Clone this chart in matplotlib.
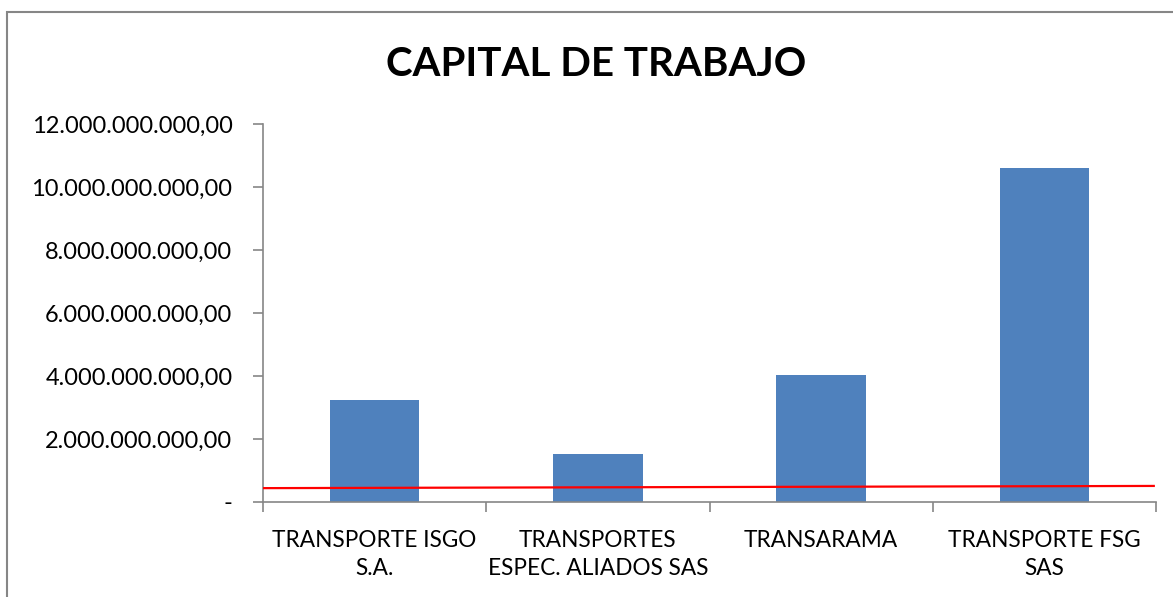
import matplotlib.pyplot as plt
from matplotlib.patches import Rectangle

plt.rcParams['font.family'] = ['Lato', 'DejaVu Sans']

# data
empresas = ["TRANSPORTE ISGO\nS.A.", "TRANSPORTES\nESPEC. ALIADOS SAS",
            "TRANSARAMA", "TRANSPORTE FSG\nSAS"]
capital = [3.24e9, 1.52e9, 4.03e9, 10.6e9]
linea_x = [-0.5, 3.49]
linea_y = [0.44e9, 0.51e9]
yticks = [0, 2e9, 4e9, 6e9, 8e9, 10e9, 12e9]


def fmt(v):
    if v == 0:
        return "-"
    s = f"{v:,.2f}"
    return s.replace(",", "X").replace(".", ",").replace("X", ".")


fig = plt.figure(figsize=(11.73, 5.97), dpi=100)
ax = fig.add_axes([263 / 1173, 1 - 502 / 597, (1156 - 263) / 1173, (502 - 124) / 597])

x = range(len(empresas))
ax.bar(x, capital, width=0.4, color="#4f81bd", zorder=2)
ax.plot(linea_x, linea_y, color="red", lw=1.6, zorder=3)

ax.set_xlim(-0.5, 3.5)
ax.set_ylim(0, 12e9)
ax.set_yticks(yticks)
ax.set_yticklabels([fmt(v) for v in yticks], fontsize=17)
ax.set_xticks(list(x))
ax.set_xticklabels(empresas, fontsize=16.3, linespacing=1.45)
ax.set_xticks([-0.5, 0.5, 1.5, 2.5, 3.5], minor=True)
ax.tick_params(axis="x", which="major", length=0, pad=20)
ax.tick_params(axis="x", which="minor", length=7, color="#868686", width=1.2)
ax.tick_params(axis="y", length=7, color="#868686", width=1.2, pad=15)

for s in ["top", "right"]:
    ax.spines[s].set_visible(False)
for s in ["left", "bottom"]:
    ax.spines[s].set_color("#868686")
    ax.spines[s].set_linewidth(1.2)

fig.text(596 / 1173, 1 - 65 / 597, "CAPITAL DE TRABAJO", fontsize=29,
         fontweight="bold", ha="center", va="center")

# outer chart border
fig.patches.append(Rectangle((7 / 1173, -0.1), 1.2, 1 - 12 / 597 + 0.1,
                             transform=fig.transFigure, fill=False,
                             edgecolor="#868686", lw=1.5))

fig.savefig("out.png", dpi=100)
